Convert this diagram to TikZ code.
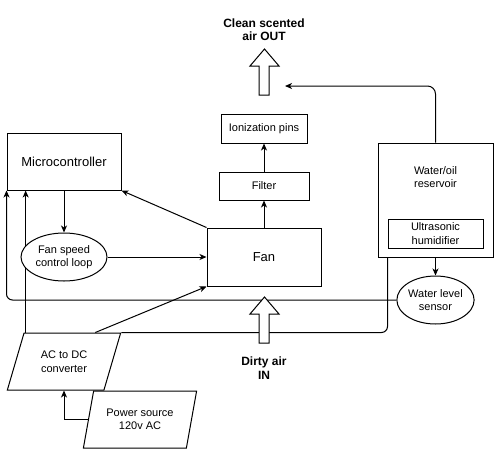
\documentclass[tikz,border=0pt]{standalone}
\usepackage{fontspec}
\setmainfont{Liberation Sans}
\usetikzlibrary{arrows.meta,shapes.geometric,positioning,backgrounds}

\tikzset{
  box/.style={draw,line width=1pt,fill=white,inner sep=0pt,font=\fontsize{11}{13.5}\selectfont,align=center},
  oval/.style={ellipse,draw,line width=1pt,fill=white,inner sep=0pt,font=\fontsize{11}{13.5}\selectfont,align=center},
  slanted/.style={trapezium,draw,line width=1pt,fill=white,inner sep=0pt,trapezium stretches=true,font=\fontsize{11}{13.5}\selectfont,align=center},
  arr/.style={line width=1pt,-{Stealth[length=7pt,width=6pt,inset=2pt]}},
  airflow/.style={draw,line width=1pt,fill=white},
  airtext/.style={font=\bfseries\fontsize{12}{13.5}\selectfont,align=center}
}

\begin{document}
\begin{tikzpicture}[x=1pt,y=-1pt]
  \useasboundingbox (0,0) rectangle (504,459);

  \node[box,minimum width=114,minimum height=57,font=\fontsize{13}{15}\selectfont](mc) at (64,161.5){Microcontroller};
  \node[oval,minimum width=86,minimum height=48](fsl) at (64,257){Fan speed\\control loop};
  \node[box,minimum width=114,minimum height=58,font=\fontsize{13}{15}\selectfont](fan) at (264,257){Fan};
  \node[box,minimum width=90,minimum height=28](filter) at (264,186){Filter};
  \node[box,minimum width=86,minimum height=29](ion) at (264,128.5){Ionization pins};
  \node[box,minimum width=115,minimum height=114](res) at (435.5,200){};
  \node[font=\fontsize{11}{13.5}\selectfont,align=center](restext) at (435.5,177){Water/oil\\reservoir};
  \node[box,minimum width=95,minimum height=29](uh) at (435.5,233.5){Ultrasonic\\humidifier};
  \node[oval,minimum width=77,minimum height=48](wls) at (435.5,300){Water level\\sensor};
  \node[slanted,minimum width=114,minimum height=57,trapezium left angle=65.5,trapezium right angle=114.5](acdc) at (64,361.5){AC to DC\\converter};
  \node[slanted,minimum width=114,minimum height=57,trapezium left angle=70.7,trapezium right angle=109.3](psrc) at (140,419.5){Power source\\120v AC};
  \coordinate (outtip) at (285,86);

  \node[airtext](outtext) at (264,29.5){Clean scented\\air OUT};
  \node[airtext](intext) at (264,368){Dirty air\\IN};

  \begin{scope}[on background layer]
    \draw[arr] (mc.south) -- (fsl.north);
    \draw[arr] (fsl.east) -- (fan.west);
    \draw[arr] (fan.north west) -- (mc.south east);
    \draw[arr] ([xshift=-26pt]acdc.top right corner) -- (fan.south west);
    \draw[arr] ([xshift=2pt]acdc.top left corner) -- ([xshift=2pt]acdc.top left corner |- mc.south);
    \draw[arr,rounded corners=6pt] (wls.west) -| (mc.south west);
    \draw[arr,rounded corners=6pt] (acdc.top right corner) -| (uh.south west);
    \draw[arr] (psrc.west) -| (acdc.south);
    \draw[arr] (fan.north) -- (filter.south);
    \draw[arr] (filter.north) -- (ion.south);
    \draw[arr,rounded corners=8pt] (res.north) |- (outtip);
    \draw[arr] (res.south) -- (wls.north);
  \end{scope}

  % air flow arrows
  \draw[airflow] (259,95) -- (259,66) -- (250,66) -- (264.5,49) -- (279,66) -- (269,66) -- (269,95) -- cycle;
  \draw[airflow] (259,343) -- (259,314) -- (250,314) -- (264.5,297) -- (279,314) -- (269,314) -- (269,343) -- cycle;
\end{tikzpicture}
\end{document}
